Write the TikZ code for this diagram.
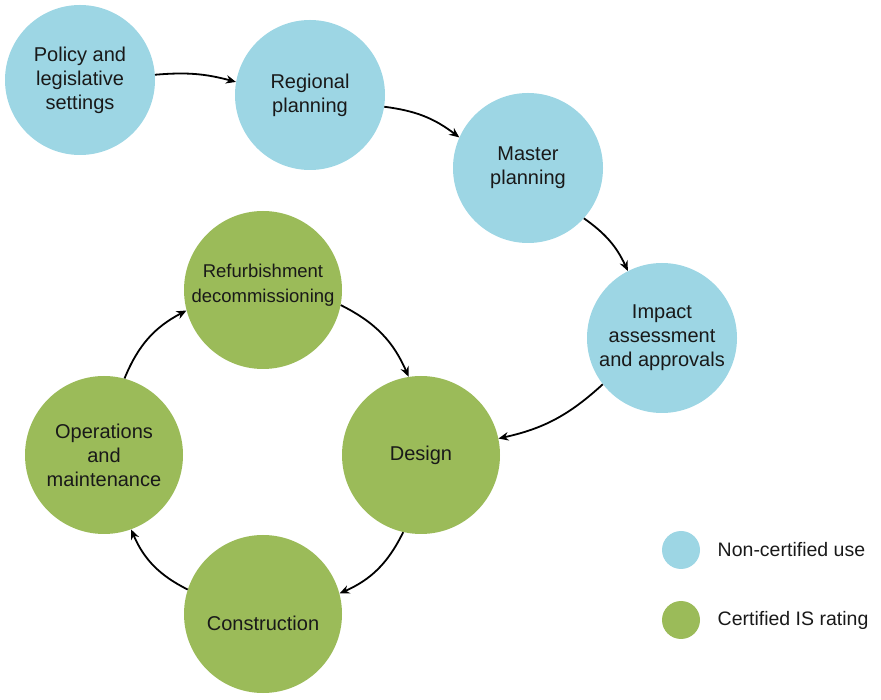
\documentclass[tikz,border=0pt]{standalone}
\usepackage{fontspec}
\setmainfont{Liberation Sans}
\usepackage{tikz}
\usetikzlibrary{arrows.meta, positioning}

\definecolor{skyblue}{RGB}{157,214,228}
\definecolor{leafgreen}{RGB}{155,187,89}
\definecolor{inkgray}{RGB}{25,25,25}

\tikzset{
  stagetext/.style={align=center, text=inkgray, inner sep=0pt,
    font=\fontsize{20}{24}\selectfont},
  stage/.style={circle, inner sep=0pt, stagetext},
  bluestage/.style={stage, fill=skyblue, minimum size=150pt},
  greenstage/.style={stage, fill=leafgreen, minimum size=158pt},
  flow/.style={-{Stealth[length=10pt, width=8.5pt]}, line width=1.8pt, bend left=#1},
  flow/.default=20,
  key/.style={circle, minimum size=38pt, inner sep=0pt},
  keytext/.style={text=inkgray, font=\fontsize{19.5}{24}\selectfont}
}

\begin{document}
\begin{tikzpicture}[x=1pt, y=1pt]
    \useasboundingbox (0,0) rectangle (881,699);

    % planning stages
    \node[bluestage] (policy) at (80,619) {Policy and\\legislative\\settings};
    \node[bluestage] (regional) at (310,604) {Regional\\planning};
    \node[bluestage] (master) at (528,531) {Master\\planning};
    \node[bluestage] (impact) at (662,361) {Impact\\assessment\\and approvals};

    % rated life cycle
    \node[greenstage] (design) at (421,244) {Design};
    \node[greenstage, label={[stagetext, yshift=-9pt]center:Construction}]
        (construction) at (263,85) {};
    \node[greenstage] (operations) at (104,244) {Operations\\and\\maintenance};
    \node[greenstage, label={[stagetext, font=\fontsize{18.5}{24.5}\selectfont, yshift=5pt]center:Refurbishment\\decommissioning}]
        (refurb) at (263,409) {};

    \draw[flow=10] (policy.4) to (regional.170);
    \draw[flow=15] (regional.-9) to (master.156);
    \draw[flow=15] (master.-42) to (impact.117);
    \draw[flow=15] (impact.218) to (design.12);

    \draw[flow] (refurb.-11) to (design.99);
    \draw[flow] (design.257) to (construction.15);
    \draw[flow] (construction.162) to (operations.-70);
    \draw[flow] (operations.75) to (refurb.195);

    % legend
    \node[key, fill=skyblue] (keyblue) at (681,149) {};
    \node[key, fill=leafgreen] (keygreen) at (681,79) {};
    \node[keytext, right=14pt of keyblue] (nonlabel) {Non-certified use};
    \node[keytext, right=14pt of keygreen] (certlabel) {Certified IS rating};
\end{tikzpicture}
\end{document}
